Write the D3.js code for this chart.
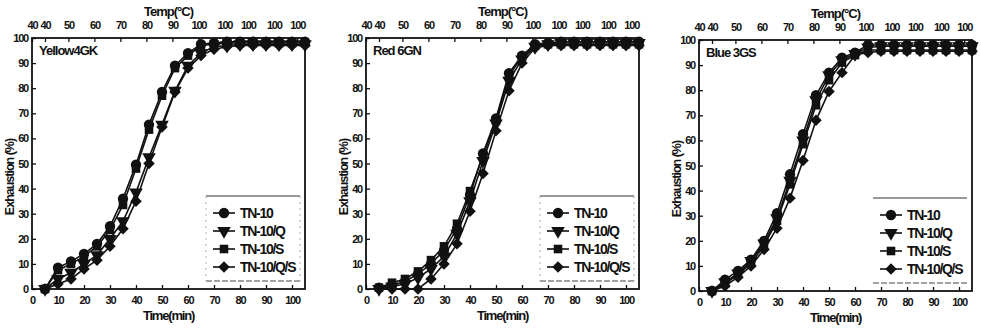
<!DOCTYPE html>
<html>
<head>
<meta charset="utf-8">
<script src="https://cdn.jsdelivr.net/npm/d3@7"></script>
<style>
  body { margin: 0; background: #fff; }
  svg text { font-family: "Liberation Sans", Arial, sans-serif; font-weight: bold; fill: #111; }
</style>
</head>
<body>
<div id="chart"></div>
<script>
// thời gian (min)
const times = [5, 10, 15, 20, 25, 30, 35, 40, 45, 50, 55, 60, 65, 70, 75, 80, 85, 90, 95, 100, 105];
const timeTicks = [0, 10, 20, 30, 40, 50, 60, 70, 80, 90, 100];
const exhaustTicks = [0, 10, 20, 30, 40, 50, 60, 70, 80, 90, 100];
// trục nhiệt độ phía trên: vị trí (min) và nhãn
const tempTickTimes = [0, 5, 14, 24, 34, 44, 54, 64, 74, 83, 93, 102];
const tempTickLabels = ["40", "40", "50", "60", "70", "80", "90", "100", "100", "100", "100", "100"];

const seriesNames = ["TN-10", "TN-10/Q", "TN-10/S", "TN-10/Q/S"];
const dyeNames = ["Yellow4GK", "Red 6GN", "Blue 3GS"];

// Yellow 4GK
const yellowTN10   = [0, 8.5, 11, 14, 18, 25, 36, 49.5, 65.5, 78.5, 89, 94, 97.5, 98, 98.5, 98.5, 98.5, 98.5, 98.5, 98.5, 98.5];
const yellowTN10Q  = [0, 4, 6.5, 10, 13.5, 20, 27, 38.5, 52.5, 65.5, 79, 89, 94, 96.5, 97, 97.5, 97.5, 97.5, 97.5, 97.5, 97.5];
const yellowTN10S  = [0, 7.5, 10, 13, 17, 23.5, 33.5, 48, 63.5, 77, 88, 93, 97, 97.5, 98, 98, 98, 98, 98, 98, 98];
const yellowTN10QS = [0, 2, 4, 8, 11.5, 17, 24, 35, 50, 64.5, 78.5, 88, 93, 95.5, 96.5, 97, 97, 97, 97, 97, 97];
// Red 6GN
const redTN10   = [0.5, 1.5, 3, 6, 10, 15.5, 24, 37.5, 54, 68, 86, 93, 97.5, 98, 98.5, 98.5, 98.5, 98.5, 98.5, 98.5, 98.5];
const redTN10Q  = [0, 1, 2, 4.5, 8, 13, 22, 35, 51, 66, 83, 91.5, 96.5, 97.5, 98, 98, 98, 98, 98, 98, 98];
const redTN10S  = [0.5, 2.5, 4, 7, 11.5, 17, 26, 39, 53, 67, 85, 92.5, 97, 97.5, 97.5, 97.5, 97.5, 97.5, 97.5, 97.5, 97.5];
const redTN10QS = [0, 0, 0, 0, 4, 10, 18, 31, 46, 63, 79, 90, 96, 97, 97, 97, 97, 97, 97, 97, 97];
// Blue 3GS
const blueTN10   = [0, 4.5, 8, 12.5, 20, 31, 46.5, 62.5, 78, 87, 93, 95, 98, 98, 98, 98, 98, 98, 98, 98, 98];
const blueTN10Q  = [0, 3.5, 7, 12, 19, 29, 44, 60, 76, 86, 92, 94.5, 97, 97.5, 97.5, 97.5, 97.5, 97.5, 97.5, 97.5, 97.5];
const blueTN10S  = [0, 3, 6.5, 11, 18, 28, 42.5, 58.5, 74, 84, 91, 94, 96, 96, 96, 96, 96, 96, 96, 96, 96];
const blueTN10QS = [0, 2, 5.5, 10, 16.5, 25, 37, 52, 68, 79.5, 87, 94, 95, 95.5, 95.5, 95.5, 95.5, 95.5, 95.5, 95.5, 95.5];

const panelData = [
    [yellowTN10, yellowTN10Q, yellowTN10S, yellowTN10QS],
    [redTN10, redTN10Q, redTN10S, redTN10QS],
    [blueTN10, blueTN10Q, blueTN10S, blueTN10QS]
];

const W = 981, H = 329;
const panelLeft = [32, 366, 699];
const panelTop = [38, 38, 40];
const pw = 273, ph = 251;

const svg = d3.select("#chart").append("svg")
    .attr("width", W)
    .attr("height", H);

// kiểu marker
const symbolFor = [
    { type: d3.symbolCircle, size: 84, rot: 0 },
    { type: d3.symbolTriangle, size: 80, rot: 180 },
    { type: d3.symbolSquare, size: 74, rot: 0 },
    { type: d3.symbolSquare, size: 66, rot: 45 }
];

function drawMarker(g, k, cx, cy) {
    const s = symbolFor[k];
    g.append("path")
        .attr("d", d3.symbol().type(s.type).size(s.size)())
        .attr("transform", `translate(${cx},${cy}) rotate(${s.rot})`)
        .attr("fill", "#111");
}

function styleAxis(g, size) {
    g.select(".domain").remove();
    g.selectAll("line").attr("stroke", "#111").attr("stroke-width", 1.3);
    g.selectAll("text")
        .style("font-size", size + "px")
        .style("letter-spacing", "-1.2px");
}

panelData.forEach((series, p) => {
    const g = svg.append("g")
        .attr("transform", `translate(${panelLeft[p]},${panelTop[p]})`);

    const x = d3.scaleLinear().domain([0, 105]).range([0, pw]);
    const y = d3.scaleLinear().domain([0, 100]).range([ph, 0]);

    // trục
    const gl = g.append("g")
        .call(d3.axisLeft(y).tickValues(exhaustTicks).tickSize(-4).tickPadding(4));
    styleAxis(gl, 11);

    const gb = g.append("g")
        .attr("transform", `translate(0,${ph})`)
        .call(d3.axisBottom(x).tickValues(timeTicks).tickSize(-4).tickPadding(7));
    styleAxis(gb, 11);

    const gt = g.append("g")
        .call(d3.axisTop(x).tickValues(tempTickTimes)
            .tickFormat((d, i) => tempTickLabels[i]).tickSize(-4).tickPadding(9));
    styleAxis(gt, 11);

    // khung
    g.append("rect")
        .attr("width", pw)
        .attr("height", ph)
        .attr("fill", "none")
        .attr("stroke", "#111")
        .attr("stroke-width", 1.8);

    // nhãn
    g.append("text")
        .attr("x", pw / 2)
        .attr("y", -22)
        .attr("text-anchor", "middle")
        .style("font-size", "13px")
        .style("letter-spacing", "-1px")
        .text("Temp(°C)");

    g.append("text")
        .attr("x", pw / 2)
        .attr("y", ph + 31)
        .attr("text-anchor", "middle")
        .style("font-size", "13px")
        .style("letter-spacing", "-1.2px")
        .text("Time(min)");

    g.append("text")
        .attr("transform", `translate(-18,${139}) rotate(-90)`)
        .attr("text-anchor", "middle")
        .style("font-size", "12.5px")
        .style("letter-spacing", "-1px")
        .text("Exhaustion (%)");

    g.append("text")
        .attr("x", 7)
        .attr("y", 17)
        .style("font-size", "13px")
        .style("letter-spacing", "-1px")
        .text(dyeNames[p]);

    // đường + marker
    const line = d3.line()
        .x((d, i) => x(times[i]))
        .y(d => y(d));

    series.forEach((vals, k) => {
        g.append("path")
            .attr("d", line(vals))
            .attr("fill", "none")
            .attr("stroke", "#111")
            .attr("stroke-width", 1.6);
    });
    series.forEach((vals, k) => {
        vals.forEach((v, i) => drawMarker(g, k, x(times[i]), y(v)));
    });

    // chú giải
    const lg = g.append("g").attr("transform", "translate(174,158)");
    const lw = 94, lh = 85;
    lg.append("line").attr("x1", 0).attr("x2", lw).attr("y1", 0).attr("y2", 0)
        .attr("stroke", "#333").attr("stroke-width", 1);
    lg.append("line").attr("x1", 0).attr("x2", lw).attr("y1", lh).attr("y2", lh)
        .attr("stroke", "#444").attr("stroke-width", 1).attr("stroke-dasharray", "6,2");
    if (p < 2) {
        [0, lw].forEach(xx => lg.append("line")
            .attr("x1", xx).attr("x2", xx).attr("y1", 0).attr("y2", lh)
            .attr("stroke", "#999").attr("stroke-width", 0.8).attr("stroke-dasharray", "2,4"));
    }
    seriesNames.forEach((name, k) => {
        const yy = 17 + k * 18;
        lg.append("line").attr("x1", 7).attr("x2", 29).attr("y1", yy).attr("y2", yy)
            .attr("stroke", "#111").attr("stroke-width", 1.6);
        drawMarker(lg, k, 18, yy);
        lg.append("text")
            .attr("x", 34)
            .attr("y", yy + 5)
            .style("font-size", "14px")
            .style("letter-spacing", "-1.3px")
            .text(name);
    });
});
</script>
</body>
</html>
